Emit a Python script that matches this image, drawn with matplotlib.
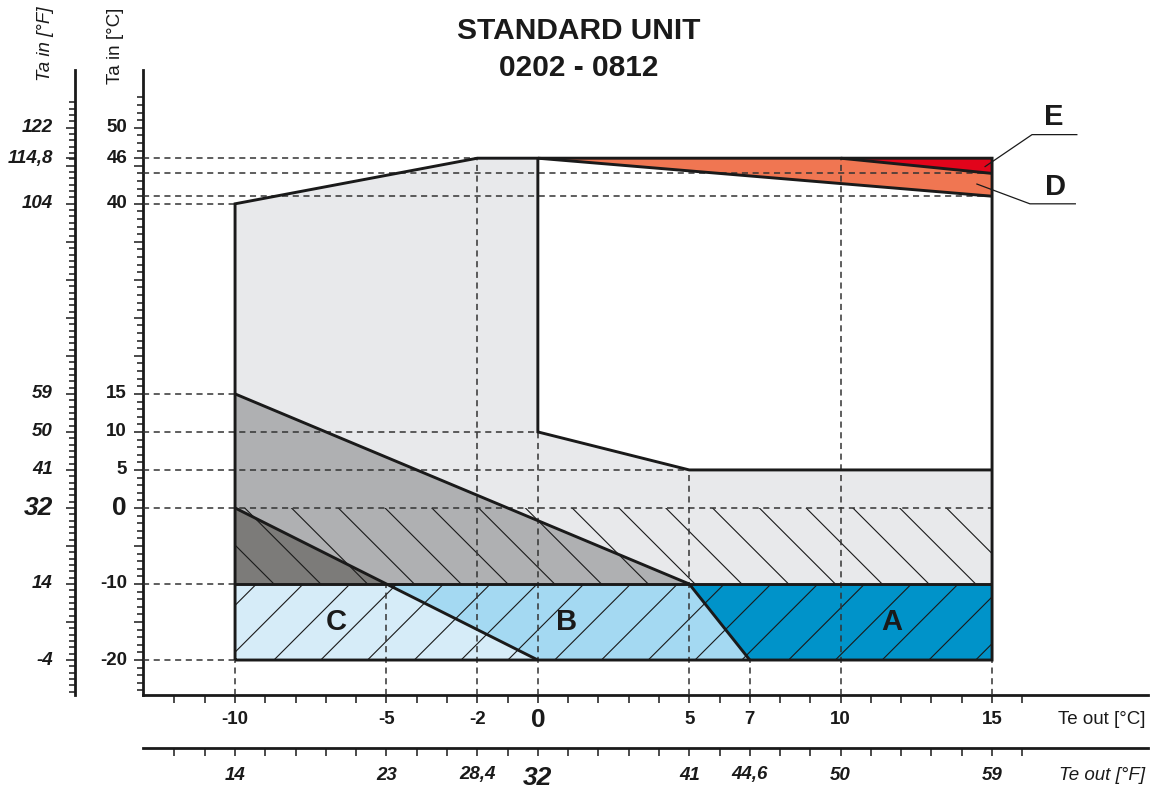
import numpy as np
import matplotlib
matplotlib.use("Agg")
import matplotlib.pyplot as plt
import matplotlib.transforms as mtransforms
from matplotlib.patches import Polygon
from matplotlib.ticker import FixedLocator

plt.rcParams['font.family'] = ['Liberation Sans', 'DejaVu Sans']

# ---- operating envelope regions (Te out [°C], Ta in [°C]) ----
envelope_x = [-10, -10, -2, 0, 0, 5, 15, 15]
envelope_y = [-10, 40, 46, 46, 10, 5, 5, -10]
mid_gray_x = [-10, 5, -10]
mid_gray_y = [15, -10, -10]
dark_gray_x = [-10, -5, -10]
dark_gray_y = [0, -10, -10]
zone_c_x = [-10, -5, 0, -10]
zone_c_y = [-10, -10, -20, -20]
zone_b_x = [-5, 5, 7, 0]
zone_b_y = [-10, -10, -20, -20]
zone_a_x = [5, 15, 15, 7]
zone_a_y = [-10, -10, -20, -20]
zone_d_x = [0, 10, 15, 15]
zone_d_y = [46, 46, 44, 41]
zone_e_x = [10, 15, 15]
zone_e_y = [46, 46, 44]

# hatched bands: defrost band (0..-10) and low-temperature band (-10..-20)
band_x = [-10, 15]
defrost_band_y = [-10, 0]
low_band_y = [-20, -10]

# boundary polylines
outline_x = [-10, -10, -2, 15, 15, -10]
outline_y = [-20, 40, 46, 46, -20, -20]
inner_x = [0, 0, 5, 15]
inner_y = [46, 10, 5, 5]
boundary_lines = [
    ([-10, 5], [15, -10]),
    ([-10, 0], [0, -20]),
    ([-10, 15], [-10, -10]),
    ([5, 7], [-10, -20]),
    ([0, 15], [46, 41]),
    ([10, 15], [46, 44]),
]

# dashed reference lines: (level, end) pairs
h_guides = [(46, -2), (44, 15), (41, 15), (40, -10), (15, -10), (10, 0),
            (5, 5), (0, 15), (-10, -10), (-20, -10)]
v_guides = [(-10, -20), (-5, -10), (-2, 46), (0, 10), (5, 5), (7, -20),
            (10, 46), (15, -20)]

# tick labels
c_y_labels = [50, 46, 40, 15, 10, 5, 0, -10, -20]
f_y_values = [122, 114.8, 104, 59, 50, 41, 32, 14, -4]
f_y_labels = ['122', '114,8', '104', '59', '50', '41', '32', '14', '-4']
c_x_labels = [-10, -5, -2, 0, 5, 7, 10, 15]
f_x_values = [14, 23, 28.4, 32, 41, 44.6, 50, 59]
f_x_labels = ['14', '23', '28,4', '32', '41', '44,6', '50', '59']

zone_labels = [('A', 11.7, -15), ('B', 0.95, -15), ('C', -6.65, -15)]


def c2f(c):
    return np.asarray(c) * 1.8 + 32


def f2c(f):
    return (np.asarray(f) - 32) / 1.8


W, H = 1150, 791
fig = plt.figure(figsize=(W / 100, H / 100), dpi=100)
ax_l, ax_r, ax_t, ax_b = 143, 1148, 70, 695
ax = fig.add_axes([ax_l / W, (H - ax_b) / H, (ax_r - ax_l) / W, (ax_b - ax_t) / H])
xmin, xmax, ymin, ymax = -13.04, 20.15, -24.6, 57.6
ax.set_xlim(xmin, xmax)
ax.set_ylim(ymin, ymax)

INK = '#1a1a1a'
LBL = 13.5
BIG = 19

# ---- fills ----
fills = [
    (envelope_x, envelope_y, '#e8e9eb'),
    (mid_gray_x, mid_gray_y, '#afb0b2'),
    (dark_gray_x, dark_gray_y, '#7c7b79'),
    (zone_c_x, zone_c_y, '#d6ecf8'),
    (zone_b_x, zone_b_y, '#a4d9f2'),
    (zone_a_x, zone_a_y, '#0093c9'),
    (zone_d_x, zone_d_y, '#f07652'),
    (zone_e_x, zone_e_y, '#e2041b'),
]
for xs, ys, col in fills:
    ax.add_patch(Polygon(np.column_stack([xs, ys]), closed=True,
                         facecolor=col, edgecolor='none', zorder=1))

# ---- hatching (45° on screen) ----
sx = (ax_r - ax_l) / (xmax - xmin)
sy = (ax_b - ax_t) / (ymax - ymin)
hatch_step = 1.545
hatch_phase = 5.19


def hatch_band(yb, direction):
    y0, y1 = yb
    run = (y1 - y0) * sy / sx
    clip = Polygon([[band_x[0], y0], [band_x[1], y0], [band_x[1], y1], [band_x[0], y1]],
                   closed=True, facecolor='none', edgecolor='none')
    ax.add_patch(clip)
    starts = hatch_phase + hatch_step * np.arange(-20, 20)
    for s in starts:
        if direction == 'back':
            xs, ys = [s - run, s], [y1, y0]
        else:
            xs, ys = [s, s + run], [y0, y1]
        ln, = ax.plot(xs, ys, color=INK, lw=0.8, zorder=2)
        ln.set_clip_path(clip)


hatch_band(defrost_band_y, 'back')
hatch_band(low_band_y, 'fwd')

# ---- dashed guides ----
dash = dict(color='#333333', lw=1.1, ls=(0, (4, 3)), zorder=3, clip_on=False)
for level, end in h_guides:
    ax.plot([xmin, end], [level, level], **dash)
for pos, end in v_guides:
    ax.plot([pos, pos], [ymin, end], **dash)

# ---- boundaries ----
thick = dict(color=INK, lw=2.1, zorder=4, solid_joinstyle='miter',
             solid_capstyle='butt')
ax.plot(outline_x, outline_y, **thick)
ax.plot(inner_x, inner_y, **thick)
for xs, ys in boundary_lines:
    ax.plot(xs, ys, **thick)

# ---- zone labels ----
for txt, x, y in zone_labels:
    ax.text(x, y, txt, fontsize=21, fontweight='bold', ha='center', va='center',
            color=INK, zorder=5)

# leaders for E and D
leader = dict(color=INK, lw=0.9, zorder=5, clip_on=False)
ax.plot([14.77, 16.32, 17.8], [44.9, 49.1, 49.1], **leader)
ax.plot([14.5, 16.25, 17.75], [42.6, 40.0, 40.0], **leader)
ax.text(17.05, 51.4, 'E', fontsize=21, fontweight='bold', ha='center', va='center',
        color=INK)
ax.text(17.1, 42.2, 'D', fontsize=21, fontweight='bold', ha='center', va='center',
        color=INK)

# ---- main axes (°C) ----
for side in ('top', 'right'):
    ax.spines[side].set_visible(False)
for side in ('left', 'bottom'):
    ax.spines[side].set_linewidth(2.0)
    ax.spines[side].set_color(INK)

ax.set_yticks(list(range(-20, 51, 5)) + [46])
ax.yaxis.set_minor_locator(FixedLocator(list(range(-24, 55))))
ax.set_xticks(list(range(-12, 17)))
ax.tick_params(axis='y', which='major', direction='out', length=6.5, width=1.1,
               color=INK, labelleft=False)
ax.tick_params(axis='y', which='minor', direction='out', length=4.3, width=1.1,
               color=INK)
ax.tick_params(axis='x', which='major', direction='out', length=5.8, width=1.1,
               color=INK, labelbottom=False)

ytr = mtransforms.blended_transform_factory(ax.transAxes, ax.transData)
xtr = mtransforms.blended_transform_factory(ax.transData, ax.transAxes)

for v in c_y_labels:
    ax.text(-0.0159, v, str(v), transform=ytr, ha='right', va='center',
            fontsize=BIG if v == 0 else LBL, fontweight='bold', color=INK)
for v in c_x_labels:
    ax.text(v, -0.04, str(v), transform=xtr, ha='center', va='center',
            fontsize=BIG if v == 0 else LBL, fontweight='bold', color=INK)

# ---- secondary axes (°F) ----
sec_y = ax.secondary_yaxis((75 - ax_l) / (ax_r - ax_l), functions=(c2f, f2c))
sec_y.spines['left'].set_linewidth(2.0)
sec_y.spines['left'].set_color(INK)
f_major = [32 + 9 * k for k in range(-4, 11)] + [114.8]
f_minor = [32 + 1.5 * k for k in range(-29, 65)]
sec_y.set_yticks(f_major)
sec_y.yaxis.set_minor_locator(FixedLocator(f_minor))
sec_y.tick_params(which='major', direction='out', length=6.5, width=1.1,
                  color=INK, labelleft=False)
sec_y.tick_params(which='minor', direction='out', length=4.3, width=1.1,
                  color=INK)

sec_x = ax.secondary_xaxis((ax_b - 748) / (ax_b - ax_t), functions=(c2f, f2c))
sec_x.spines['bottom'].set_linewidth(2.0)
sec_x.spines['bottom'].set_color(INK)
sec_x.set_xticks([float(c2f(c)) for c in range(-12, 17)])
sec_x.tick_params(which='major', direction='out', length=5.8, width=1.1,
                  color=INK, labelbottom=False)
sec_x.tick_params(which='minor', length=0)

for v, lab in zip(f_y_values, f_y_labels):
    ax.text(-0.0896, float(f2c(v)), lab, transform=ytr, ha='right', va='center',
            fontsize=BIG if lab == '32' else LBL, fontweight='bold', style='italic',
            color=INK)
for v, lab in zip(f_x_values, f_x_labels):
    ax.text(float(f2c(v)), -0.128 if lab != '32' else -0.133, lab, transform=xtr,
            ha='center', va='center', fontsize=BIG if lab == '32' else LBL,
            fontweight='bold', style='italic', color=INK)

# ---- axis titles ----
fig.text(115 / W, 1 - 46 / H, 'Ta in [°C]', rotation=90, ha='center', va='center',
         fontsize=13.5, color=INK)
fig.text(46 / W, 1 - 44 / H, 'Ta in [°F]', rotation=90, ha='center', va='center',
         fontsize=13.5, style='italic', color=INK)
fig.text(1145 / W, 1 - 720 / H, 'Te out [°C]', ha='right', va='center',
         fontsize=13.5, color=INK)
fig.text(1145 / W, 1 - 775 / H, 'Te out [°F]', ha='right', va='center',
         fontsize=13.5, style='italic', color=INK)

# ---- title ----
fig.text(579 / W, 1 - 31 / H, 'STANDARD UNIT', ha='center', va='center',
         fontsize=21.5, fontweight='bold', color=INK)
fig.text(579 / W, 1 - 68 / H, '0202 - 0812', ha='center', va='center',
         fontsize=21.5, fontweight='bold', color=INK)

fig.savefig('out.png', dpi=100)
